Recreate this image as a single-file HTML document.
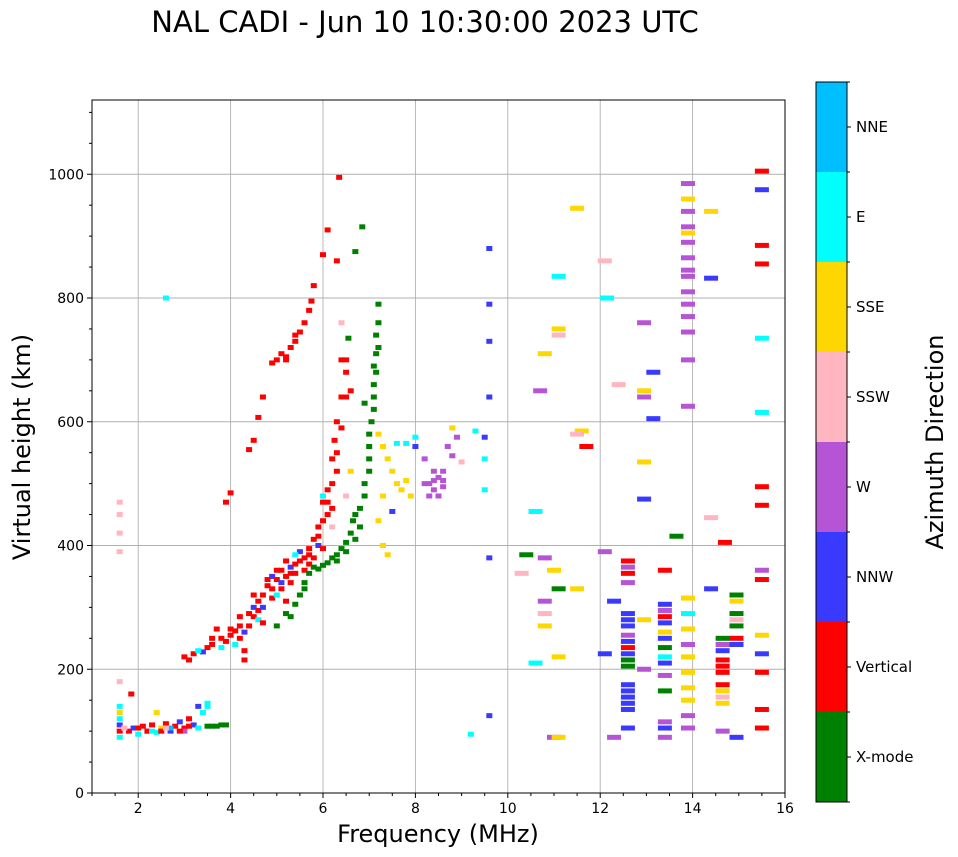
<!DOCTYPE html>
<html><head><meta charset="utf-8"><style>
body{margin:0;background:#fff;}
svg{display:block;font-family:"DejaVu Sans","Liberation Sans",sans-serif;}
</style></head><body>
<svg id="c" width="958" height="857"></svg>
<script>
const dirNames=["X-mode","Vertical","NNW","W","SSW","SSE","E","NNE"];
const dirColors=["#008000","#ff0000","#3a3aff","#b555d6","#ffb6c1","#ffd700","#00ffff","#00bfff"];
const xTicks=[2,4,6,8,10,12,14,16];
const yTicks=[0,200,400,600,800,1000];
const X=0,V=1,N=2,W=3,S=4,Y=5,E=6,B=7;
const pts=[
[1.6,100,V],[1.6,110,N],[1.6,120,E],[1.6,130,Y],[1.6,90,E],[1.8,100,V],[1.9,105,N],[2.0,95,E],[2.1,108,V],[2.2,100,N],[2.3,110,V],[2.4,98,E],[2.5,105,Y],[2.6,112,V],[2.7,100,N],[2.8,108,V],[2.9,115,N],[3.0,105,V],[3.1,120,V],[3.2,110,N],[3.3,140,N],[3.4,130,E],[3.5,108,X],[3.7,108,X],[3.9,110,X],[1.6,420,S],[1.6,450,S],[1.6,470,S],[1.6,390,S],[2.2,100,V],[2.5,100,V],[2.7,105,B],[3.0,100,W],[2.4,130,Y],[3.5,140,E],[1.7,105,S],[2.0,105,V],[2.3,100,E],[2.6,105,S],[2.9,100,V],[3.1,108,V],[3.3,105,E],[3.5,145,E],[3.6,108,X],[3.8,110,X],[1.6,140,E],[1.6,180,S],[1.85,160,V],
[3.0,220,V],[3.1,215,V],[3.2,225,V],[3.4,228,N],[3.6,240,V],[3.7,265,V],[3.8,250,V],[4.0,255,V],[4.1,262,V],[4.2,270,V],[4.3,215,V],[4.4,290,V],[4.5,300,N],[4.6,310,V],[4.7,320,V],[4.8,335,V],[4.9,350,N],[5.0,345,V],[5.1,360,V],[5.2,350,V],[5.3,365,N],[5.4,370,V],[5.5,375,V],[5.6,380,V],[5.7,395,V],[5.8,410,V],[5.9,430,V],[6.0,470,V],[6.1,490,V],[6.2,540,V],[6.25,570,V],[6.3,600,V],[6.4,640,V],[6.4,700,V],[6.5,680,V],[6.6,650,V],[6.4,760,S],[6.3,860,V],[6.35,995,V],[6.1,910,V],[6.0,870,V],[6.2,430,S],[6.5,480,S],[6.6,520,Y],
[3.5,235,V],[3.9,245,V],[4.3,260,N],[4.5,285,V],[4.9,330,V],[5.1,340,N],[5.3,355,V],[5.7,370,V],[5.9,400,N],[6.1,450,V],[6.3,520,V],
[3.3,230,E],[3.6,250,V],[3.8,235,E],[4.0,265,V],[4.2,250,V],[4.2,285,V],[4.4,270,V],[4.5,320,V],[4.6,295,V],[4.7,300,N],[4.8,345,V],[4.9,315,V],[5.0,360,V],[5.1,330,V],[5.2,375,V],[5.3,340,V],[5.4,355,V],[5.5,390,N],[5.6,360,V],[5.7,385,V],[5.8,380,V],[5.9,415,V],[6.0,440,V],[6.0,395,V],[6.1,470,V],[6.2,500,V],[6.2,460,V],[6.3,550,V],[6.4,590,V],[6.5,640,V],[6.5,700,V],[4.1,240,E],[4.6,280,E],[5.0,320,E],[5.4,385,E],[6.0,480,E],[4.3,230,V],[4.7,275,V],[5.2,310,V],
[3.9,470,V],[4.0,485,V],[4.4,555,V],[4.5,570,V],[4.6,607,V],[4.7,640,V],
[4.9,695,V],[5.0,700,V],[5.1,710,V],[5.2,705,V],[5.3,720,V],[5.4,730,V],[5.5,745,V],[5.6,760,V],[5.7,780,V],[5.75,795,V],[5.8,820,V],[5.2,700,V],[5.4,740,V],
[5.0,270,X],[5.2,290,X],[5.4,305,X],[5.5,320,X],[5.6,340,X],[5.7,355,X],[5.8,365,X],[6.0,368,X],[6.1,372,X],[6.2,380,X],[6.3,385,X],[6.4,395,X],[6.5,405,X],[6.6,420,X],[6.65,440,X],[6.8,460,X],[6.9,480,X],[7.0,520,X],[7.0,560,X],[7.05,600,X],[7.1,640,X],[7.1,690,X],[7.15,740,X],[7.2,790,X],[7.2,760,X],[6.7,875,X],[6.85,915,X],[6.55,735,X],[6.9,630,X],[7.0,580,X],[7.1,660,X],[7.15,710,X],[6.9,500,X],[6.7,450,X],[5.3,285,X],[5.6,330,X],[5.9,362,X],[6.3,375,X],[6.5,390,X],[6.7,410,X],[6.8,430,X],[7.0,540,X],[7.1,620,X],[7.15,680,X],[7.2,720,X],
[7.2,580,Y],[7.3,560,Y],[7.4,540,Y],[7.5,520,Y],[7.6,500,Y],[7.7,490,Y],[7.8,505,Y],[7.3,480,Y],[7.2,440,Y],[7.3,400,Y],[7.4,385,Y],[7.5,455,N],[7.6,565,E],[7.8,565,E],[8.0,560,N],[8.0,575,E],[8.2,540,W],[8.3,500,W],[8.4,490,W],[8.5,510,W],[8.6,520,W],[8.3,480,W],[8.5,480,W],[8.7,560,W],[8.8,590,Y],[8.9,575,W],[9.0,535,S],[9.3,585,E],[9.5,540,E],[9.5,575,N],[9.5,490,E],[9.6,380,N],[9.6,640,N],[9.6,790,N],[9.6,880,N],[9.6,730,N],[9.6,125,N],[9.2,95,E],[8.2,500,W],[8.4,520,W],[8.6,495,W],[8.4,505,W],[8.6,505,W],[8.8,545,W],[7.9,480,Y],
[10.4,385,X],[10.3,355,S],[10.6,455,E],[10.6,210,E],[10.8,380,W],[10.8,310,W],[10.8,290,S],[10.8,270,Y],[10.7,650,W],[10.8,710,Y],[11.0,360,Y],[11.1,330,X],[11.1,220,Y],[11.0,90,W],[11.1,90,Y],[11.1,750,Y],[11.1,740,S],[11.1,835,E],[11.5,945,Y],[11.6,585,Y],[11.5,580,S],[11.7,560,V],[11.5,330,Y],[12.1,860,S],[12.15,800,E],[12.4,660,S],[12.1,390,W],[12.1,225,N],[12.3,310,N],[12.3,90,W],
[12.6,375,V],[12.6,365,W],[12.6,355,V],[12.6,340,W],[12.6,290,N],[12.6,280,N],[12.6,270,N],[12.6,255,W],[12.6,245,N],[12.6,235,V],[12.6,225,N],[12.6,215,X],[12.6,205,X],[12.6,175,N],[12.6,165,N],[12.6,155,N],[12.6,145,N],[12.6,135,N],[12.6,105,N],
[12.95,650,Y],[12.95,640,W],[12.95,760,W],[12.95,535,Y],[12.95,475,N],[12.95,200,W],[12.95,280,Y],[13.15,680,N],[13.15,605,N],
[13.4,305,N],[13.4,295,W],[13.4,285,V],[13.4,275,N],[13.4,260,Y],[13.4,250,N],[13.4,235,X],[13.4,220,E],[13.4,210,N],[13.4,190,W],[13.4,165,X],[13.4,115,W],[13.4,105,N],[13.4,90,W],[13.4,360,V],[13.65,415,X],
[13.9,985,W],[13.9,960,Y],[13.9,940,W],[13.9,915,W],[13.9,905,Y],[13.9,890,W],[13.9,865,W],[13.9,845,W],[13.9,835,W],[13.9,810,W],[13.9,790,W],[13.9,770,W],[13.9,745,W],[13.9,700,W],[13.9,625,W],[13.9,315,Y],[13.9,290,E],[13.9,265,Y],[13.9,240,W],[13.9,220,Y],[13.9,195,Y],[13.9,170,Y],[13.9,150,Y],[13.9,125,W],[13.9,105,W],
[14.4,940,Y],[14.4,832,N],[14.4,445,S],[14.4,330,N],[14.7,405,V],[14.65,250,X],[14.65,240,W],[14.65,230,N],[14.65,215,V],[14.65,205,V],[14.65,195,V],[14.65,175,V],[14.65,165,Y],[14.65,155,S],[14.65,145,Y],[14.65,100,W],[14.95,320,X],[14.95,310,Y],[14.95,290,X],[14.95,280,S],[14.95,270,X],[14.95,250,V],[14.95,240,N],[14.95,90,N],
[15.5,1005,V],[15.5,975,N],[15.5,885,V],[15.5,855,V],[15.5,735,E],[15.5,615,E],[15.5,495,V],[15.5,465,V],[15.5,360,W],[15.5,345,V],[15.5,255,Y],[15.5,225,N],[15.5,195,V],[15.5,135,V],[15.5,105,V],[2.6,800,E]
];
const freqs=pts.map(p=>p[0]), heights=pts.map(p=>p[1]), dirs=pts.map(p=>p[2]);

const NS="http://www.w3.org/2000/svg";
const svg=document.getElementById('c');
const L=92,R=785,T=100,Bt=793;
const xs=f=>L+(f-1)/(16-1)*(R-L);
const ys=h=>Bt-h/1120*(Bt-T);
function mk(tag,a,parent){const e=document.createElementNS(NS,tag);for(const k in a)e.setAttribute(k,a[k]);(parent||svg).appendChild(e);return e;}

let t=mk('text',{x:425,y:32,'font-size':29,'text-anchor':'middle'});t.textContent='NAL CADI - Jun 10 10:30:00 2023 UTC';


const grid=mk('g',{stroke:'#b0b0b0','stroke-width':0.9});

xTicks.forEach(v=>{if(v<16)mk('line',{x1:xs(v),x2:xs(v),y1:T,y2:Bt},grid);});
yTicks.forEach(v=>{if(v>0)mk('line',{x1:L,x2:R,y1:ys(v),y2:ys(v)},grid);});

const marks=mk('g',{});

for(let i=0;i<freqs.length;i++){
  const w=freqs[i]>10?14:6;
  const r=mk('rect',{x:xs(freqs[i])-w/2,y:ys(heights[i])-2.5,width:w,height:5,fill:dirColors[dirs[i]]},marks);
  
  
}

const ax=mk('g',{stroke:'#000','stroke-width':1,fill:'none'});

mk('rect',{x:L,y:T,width:R-L,height:Bt-T},ax);
for(let v=1;v<=16;v+=0.5){mk('line',{x1:xs(v),x2:xs(v),y1:Bt,y2:Bt+(xTicks.includes(v)?5:3)},ax);}
for(let v=0;v<=1100;v+=50){mk('line',{x1:L,x2:L-(v%200==0?5:3),y1:ys(v),y2:ys(v)},ax);}
xTicks.forEach(v=>{const e=mk('text',{x:xs(v),y:Bt+20,'font-size':14,'text-anchor':'middle'});e.textContent=v;
 });
yTicks.forEach(v=>{const e=mk('text',{x:L-8,y:ys(v)+5,'font-size':14,'text-anchor':'end'});e.textContent=v;
 });
t=mk('text',{x:438,y:842,'font-size':24,'text-anchor':'middle'});t.textContent='Frequency (MHz)';

t=mk('text',{x:30,y:447,'font-size':24,'text-anchor':'middle',transform:'rotate(-90 30 447)'});t.textContent='Virtual height (km)';


const cb=mk('g',{});

const cT=82,cB=802,cx=816,cw=31,bh=(cB-cT)/8;
for(let i=0;i<8;i++){
  const y=cB-(i+1)*bh;
  mk('rect',{x:cx,y:y,width:cw,height:bh,fill:dirColors[i]},cb);
  mk('line',{x1:cx+cw,x2:cx+cw+4,y1:y+bh/2,y2:y+bh/2,stroke:'#000'},cb);
  const e=mk('text',{x:856,y:y+bh/2+5,'font-size':15},cb);e.textContent=dirNames[i];
  
}
for(let i=0;i<=8;i++){mk('line',{x1:cx+cw,x2:cx+cw+3,y1:cT+i*bh,y2:cT+i*bh,stroke:'#000'},cb);}
mk('rect',{x:cx,y:cT,width:cw,height:cB-cT,fill:'none',stroke:'#000'},cb);
t=mk('text',{x:943,y:442,'font-size':24,'text-anchor':'middle',transform:'rotate(-90 943 442)'});t.textContent='Azimuth Direction';

</script>
</body></html>
